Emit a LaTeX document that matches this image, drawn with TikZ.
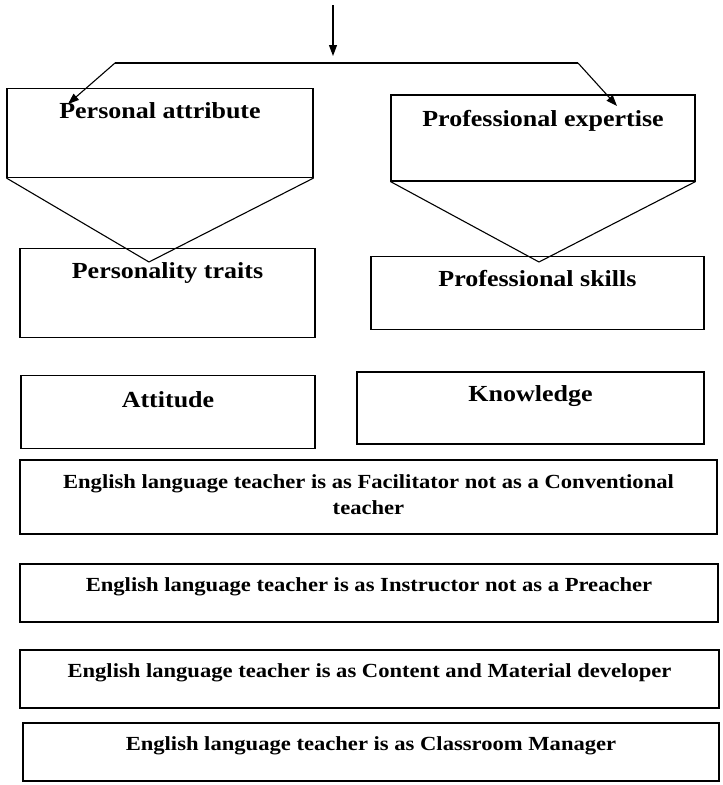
\documentclass[tikz,border=0pt]{standalone}
\usepackage{fontspec}
\setmainfont{Liberation Serif}
\newfontfamily\upf{Liberation Serif}[FakeStretch=1.13]
\newfontfamily\lowf{Liberation Serif}[FakeStretch=1.13]
\usetikzlibrary{arrows.meta}
\begin{document}
\begin{tikzpicture}[x=1pt,y=-1pt,
  every path/.style={line width=1.1pt},
  boxnode/.style={draw, line width=1.1pt, inner sep=0pt, rectangle},
  upbox/.style={boxnode, font=\upf\bfseries\fontsize{23}{26}\selectfont},
  lowbox/.style={boxnode, font=\lowf\bfseries\fontsize{20}{26}\selectfont},
  arr/.style={-{Triangle[length=11pt,width=8pt]}}]
\useasboundingbox (0,0) rectangle (723,785);
% upper boxes
\node[upbox, minimum width=306pt, text height=30pt, text depth=59pt] (pa) at (160,133) {Personal attribute};
\node[upbox, minimum width=304pt, text height=31pt, text depth=55pt] (pe) at (543,138) {Professional expertise};
\node[upbox, minimum width=295pt, text height=30pt, text depth=59pt] (pt) at (167.5,293) {Personality traits};
\node[upbox, minimum width=333pt, text height=30pt, text depth=43pt] (ps) at (537.5,293) {Professional skills};
\node[upbox, minimum width=294pt, text height=32pt, text depth=41pt] (at) at (168,412) {Attitude};
\node[upbox, minimum width=347pt, text height=29pt, text depth=43pt] (kn) at (530.5,408) {Knowledge};
% lower boxes
\node[lowbox, minimum width=697pt, text height=28pt, text depth=46pt] (fa) at (368.5,497)
  {\begin{tabular}[t]{@{}c@{}}English language teacher is as Facilitator not as a Conventional\\ teacher\end{tabular}};
\node[lowbox, minimum width=698pt, text height=27pt, text depth=31pt] (in) at (369,593) {English language teacher is as Instructor not as a Preacher};
\node[lowbox, minimum width=699pt, text height=27pt, text depth=31pt] (co) at (369.5,679) {English language teacher is as Content and Material developer};
\node[lowbox, minimum width=696pt, text height=27pt, text depth=31pt] (ma) at (371,752) {English language teacher is as Classroom Manager};
% top connectors
\coordinate (top) at (333,5);
\coordinate (topend) at (333,56);
\coordinate (hl) at (115,63);
\coordinate (hr) at (578,63);
\coordinate (tl) at (68,104);
\coordinate (tr) at (617,106);
\draw[arr] (top) -- (topend);
\draw (hl) -- (hr);
\draw[arr] (hl) -- (tl);
\draw[arr] (hr) -- (tr);
% funnels
\coordinate (apl) at (149,262);
\coordinate (apr) at (539,262);
\draw (pa.south west) -- (apl) -- (pa.south east);
\draw (pe.south west) -- (apr) -- (pe.south east);
\end{tikzpicture}
\end{document}
